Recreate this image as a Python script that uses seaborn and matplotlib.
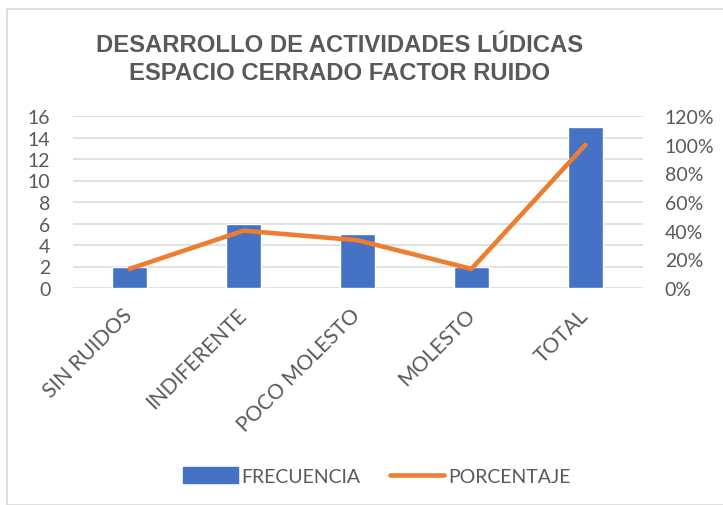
import matplotlib
matplotlib.use("Agg")
import matplotlib.pyplot as plt
import seaborn as sns
import numpy as np
import pandas as pd
from matplotlib.patches import Patch, Rectangle
from matplotlib.lines import Line2D
from matplotlib.ticker import FuncFormatter, MultipleLocator

categories = ["SIN RUIDOS", "INDIFERENTE", "POCO MOLESTO", "MOLESTO", "TOTAL"]
frecuencia = [2, 6, 5, 2, 15]
porcentaje = [13.33, 40.0, 33.33, 13.33, 100.0]
title_lines = ["DESARROLLO DE ACTIVIDADES LÚDICAS", "ESPACIO CERRADO FACTOR RUIDO"]

sns.set_theme(style="white")
plt.rcParams['font.family'] = ['Lato', 'DejaVu Sans']

BLUE = "#4472C4"
ORANGE = "#ED7D31"
GRAY = "#595959"
GRID = "#D9D9D9"

df = pd.DataFrame({"cat": categories, "frec": frecuencia, "pct": porcentaje})
df["pos"] = np.arange(len(df))

fig = plt.figure(figsize=(7.23, 5.06), dpi=100)
fig.patches.append(Rectangle((7/723, 0), 1.0, 1 - 10/506, transform=fig.transFigure,
                             fill=False, edgecolor=GRID, linewidth=1.2, zorder=0))

ax = fig.add_axes([72.5/723, 1 - 289/506, 570/723, 172/506])
sns.barplot(data=df, x="cat", y="frec", color=BLUE, width=0.31, ax=ax, saturation=1, zorder=2)
ax.set_ylim(0, 16)
ax.set_xlim(-0.5, 4.5)
ax.yaxis.set_major_locator(MultipleLocator(2))
ax.grid(axis="y", color=GRID, linewidth=1.1, zorder=0)
ax.set_axisbelow(True)
for s in ax.spines.values():
    s.set_visible(False)
ax.set_xlabel("")
ax.set_ylabel("")
ax.tick_params(axis="y", length=0, pad=16, labelsize=14, labelcolor=GRAY)
ax.tick_params(axis="x", length=0, pad=17, labelsize=15, labelcolor=GRAY)
ax.set_xticks(range(len(categories)))
ax.set_xticklabels(categories, rotation=45, ha="right", va="center", rotation_mode="anchor")

ax2 = ax.twinx()
sns.lineplot(data=df, x="pos", y="pct", color=ORANGE, linewidth=3.3, ax=ax2,
             solid_capstyle="round", zorder=3)
ax2.set_ylim(0, 120)
ax2.yaxis.set_major_locator(MultipleLocator(20))
ax2.yaxis.set_major_formatter(FuncFormatter(lambda v, p: f"{v:.0f}%"))
for s in ax2.spines.values():
    s.set_visible(False)
ax2.set_ylabel("")
ax2.set_xlabel("")
ax2.tick_params(axis="y", length=0, pad=16, labelsize=14, labelcolor=GRAY)
ax2.set_xlim(-0.5, 4.5)

for line, base in zip(title_lines, [52, 80]):
    fig.text(340/723, 1 - base/506, line, ha="center", va="baseline", fontsize=17.2,
             fontweight="bold", color=GRAY, family=["Liberation Sans", "DejaVu Sans"])

handles = [Patch(facecolor=BLUE, edgecolor=BLUE, label="FRECUENCIA"),
           Line2D([0], [0], color=ORANGE, linewidth=3.3, solid_capstyle="round", label="PORCENTAJE")]
fig.legend(handles=handles, loc="center", bbox_to_anchor=(377/723, 1 - 477/506), ncol=2,
           frameon=False, fontsize=14, labelcolor=GRAY, handlelength=2.8, handletextpad=0.2,
           columnspacing=1.5, handleheight=0.9)

fig.savefig("out.png", dpi=100)
